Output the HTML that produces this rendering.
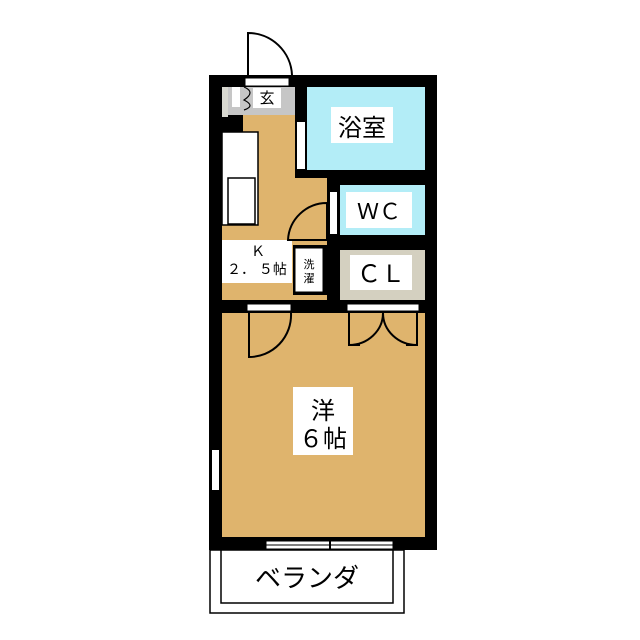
<!DOCTYPE html>
<html><head><meta charset="utf-8"><style>body{margin:0;background:#fff}svg{display:block}text{font-family:"Liberation Sans","Noto Sans CJK JP",sans-serif}</style></head>
<body>
<svg width="640" height="640" viewBox="0 0 640 640">
<rect width="640" height="640" fill="#fff"/>
<path d="M248 75 V33 A44 44 0 0 1 292 75" fill="#fff" stroke="#000" stroke-width="2"/>
<rect x="209" y="75" width="228" height="475" fill="#000"/>
<rect x="245" y="78" width="44" height="8" fill="#fff" stroke="#000"/>
<rect x="222" y="87" width="73" height="28" fill="#c6c6c6"/>
<rect x="222" y="87" width="6" height="30" fill="#d8d8d0"/>
<rect x="232" y="87" width="8" height="20" fill="#fff"/>
<rect x="253" y="88" width="28" height="20" fill="#fff"/>
<text x="267" y="103" font-size="15" text-anchor="middle">玄</text>
<path d="M244 87 Q256 92 244 100 Q256 106 244 110" fill="none" stroke="#000" stroke-width="1.2"/>
<path d="M243 115 H295 V178 H327 V300 H222 V132 H243 Z" fill="#dfb46d"/>
<rect x="222" y="132" width="36" height="93" fill="#fff" stroke="#000" stroke-width="1.5"/>
<rect x="228" y="178" width="27" height="46" fill="#fff" stroke="#000" stroke-width="1.5"/>
<rect x="222" y="240" width="70" height="43" fill="#fff"/>
<text x="258" y="256" font-size="14" text-anchor="middle">Ｋ</text>
<text x="257" y="274" font-size="14" text-anchor="middle">２． ５帖</text>
<rect x="293" y="245" width="34" height="50" fill="#000"/>
<rect x="295" y="248" width="28" height="44" fill="#fff" stroke="#000"/>
<text x="309" y="268" font-size="11" text-anchor="middle">洗</text>
<text x="309" y="282" font-size="11" text-anchor="middle">濯</text>
<path d="M327 240 H288 A39 39 0 0 1 327 203 Z" fill="#dfb46d" stroke="#000" stroke-width="2"/>
<rect x="330" y="192" width="7" height="42" fill="#fff"/>
<rect x="307" y="87" width="118" height="83" fill="#b3edf7"/>
<rect x="297" y="122" width="8" height="47" fill="#fff"/>
<rect x="331" y="107" width="62" height="36" fill="#fff"/>
<text x="362" y="136" font-size="24" text-anchor="middle">浴室</text>
<rect x="340" y="185" width="85" height="50" fill="#b3edf7"/>
<rect x="346" y="192" width="66" height="36" fill="#fff"/>
<text x="379" y="219" font-size="22" text-anchor="middle">ＷＣ</text>
<rect x="340" y="250" width="85" height="50" fill="#d4d0c0"/>
<rect x="350" y="255" width="62" height="35" fill="#fff"/>
<text x="381" y="282" font-size="24" text-anchor="middle">ＣＬ</text>
<rect x="222" y="313" width="203" height="224" fill="#dfb46d"/>
<rect x="247" y="304" width="44" height="7" fill="#fff" stroke="#000"/>
<rect x="347" y="304" width="72" height="7" fill="#fff" stroke="#000"/>
<path d="M249 313 V357 A42 42 0 0 0 291 313" fill="none" stroke="#000" stroke-width="2"/>
<path d="M349 313 V345 H360 M383 313 A34 32 0 0 1 349 345 M417 313 V345 H406 M383 313 A34 32 0 0 0 417 345" fill="none" stroke="#000" stroke-width="2"/>
<rect x="212" y="450" width="7" height="40" fill="#fff"/>
<rect x="293" y="387" width="60" height="68" fill="#fff"/>
<text x="323" y="419" font-size="24" text-anchor="middle">洋</text>
<text x="323" y="447" font-size="24" text-anchor="middle">６帖</text>
<rect x="266" y="541" width="127" height="8" fill="#fff" stroke="#000"/>
<line x1="266" y1="545" x2="393" y2="545" stroke="#000"/>
<line x1="330" y1="539" x2="330" y2="550" stroke="#000" stroke-width="2"/>
<rect x="210" y="550" width="194" height="63" fill="#fff" stroke="#000" stroke-width="1.5"/>
<rect x="221" y="550" width="172" height="53" fill="#fff" stroke="#000" stroke-width="1.5"/>
<text x="307" y="587" font-size="26" text-anchor="middle">ベランダ</text>
</svg>
</body></html>
